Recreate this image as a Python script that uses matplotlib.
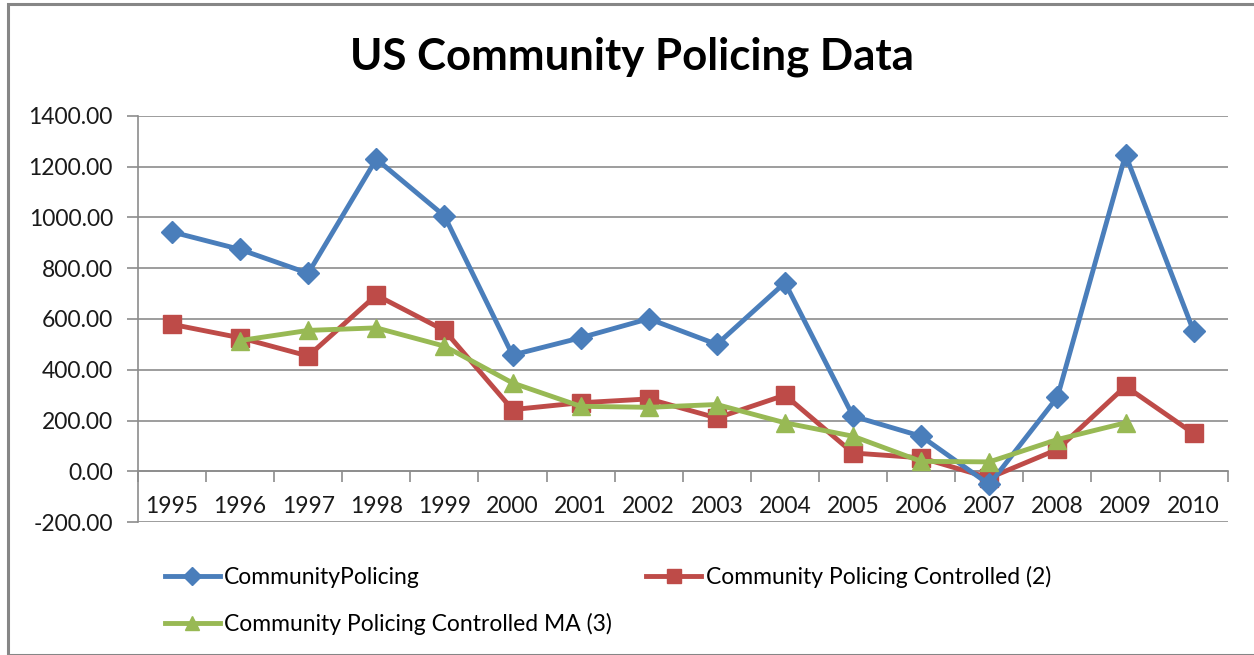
import numpy as np
import matplotlib.pyplot as plt
from matplotlib.patches import Rectangle

years = [str(y) for y in range(1995, 2011)]
community_policing = [943, 874, 780, 1230, 1006, 458, 526, 601, 500, 743, 217, 138, -52, 292, 1247, 552]
controlled_2 = [579, 526, 454, 694, 555, 243, 270, 285, 210, 300, 72, 53, -26, 86, 335, 149]
# moving average has no value for the first and last year
controlled_ma3 = [np.nan, 515, 555, 565, 493, 348, 256, 252, 263, 191, 138, 39, 37, 125, 191, np.nan]

plt.rcParams['font.family'] = ['Lato', 'DejaVu Sans']

fig = plt.figure(figsize=(12.54, 6.55), dpi=100)
ax = fig.add_axes([0.110, 0.203, 0.869, 0.620])

# outer chart frame
fig.patches.append(Rectangle((8 / 1254, 0), 1.0, 1 - 4 / 655, transform=fig.transFigure,
                             fill=False, edgecolor='#868686', linewidth=2.2, zorder=0))

x = np.arange(len(years))
l1, = ax.plot(x, community_policing, '-D', color='#4A7EBB', lw=3.5, ms=11,
              label='CommunityPolicing', zorder=4)
l2, = ax.plot(x, controlled_2, '-s', color='#BE4B48', lw=3.5, ms=13,
              label='Community Policing Controlled (2)', zorder=3)
l3, = ax.plot(x, controlled_ma3, '-^', color='#98B954', lw=3.5, ms=13,
              label='Community Policing Controlled MA (3)', zorder=5)

ax.set_xlim(-0.5, len(years) - 0.5)
ax.set_ylim(-200, 1400)
ax.set_yticks(np.arange(-200, 1401, 200))
ax.set_yticklabels([f'{v:.2f}' for v in np.arange(-200, 1401, 200)])
ax.yaxis.grid(True, color='#8c8c8c', lw=1.2)
ax.set_axisbelow(True)

ax.set_xticks(x)
ax.set_xticklabels(years)
ax.set_xticks(np.arange(-0.5, len(years)), minor=True)
ax.tick_params(axis='x', which='major', length=0, pad=18, labelsize=16.5, colors='#1a1a1a')
ax.tick_params(axis='x', which='minor', length=8, width=1.2, color='#8c8c8c')
ax.tick_params(axis='y', length=8, width=1.2, color='#8c8c8c', labelsize=16.5,
               labelcolor='#1a1a1a', pad=10)

for s in ['top', 'right']:
    ax.spines[s].set_visible(False)
ax.spines['bottom'].set_position(('data', 0))
ax.spines['bottom'].set_color('#8c8c8c')
ax.spines['bottom'].set_linewidth(1.2)
ax.spines['left'].set_color('#8c8c8c')
ax.spines['left'].set_linewidth(1.2)

fig.text(0.504, 0.913, 'US Community Policing Data', ha='center', va='center',
         fontsize=31.5, fontweight='bold')

fig.legend([l1, l3, l2], [l1.get_label(), l3.get_label(), l2.get_label()],
           ncol=2, loc='upper left', bbox_to_anchor=(0.124, 0.150), frameon=False,
           fontsize=16.5, handlelength=2.4, handletextpad=0.2, columnspacing=1.5,
           labelspacing=1.1, borderaxespad=0, markerscale=0.8)

fig.savefig('out.png', dpi=100)
